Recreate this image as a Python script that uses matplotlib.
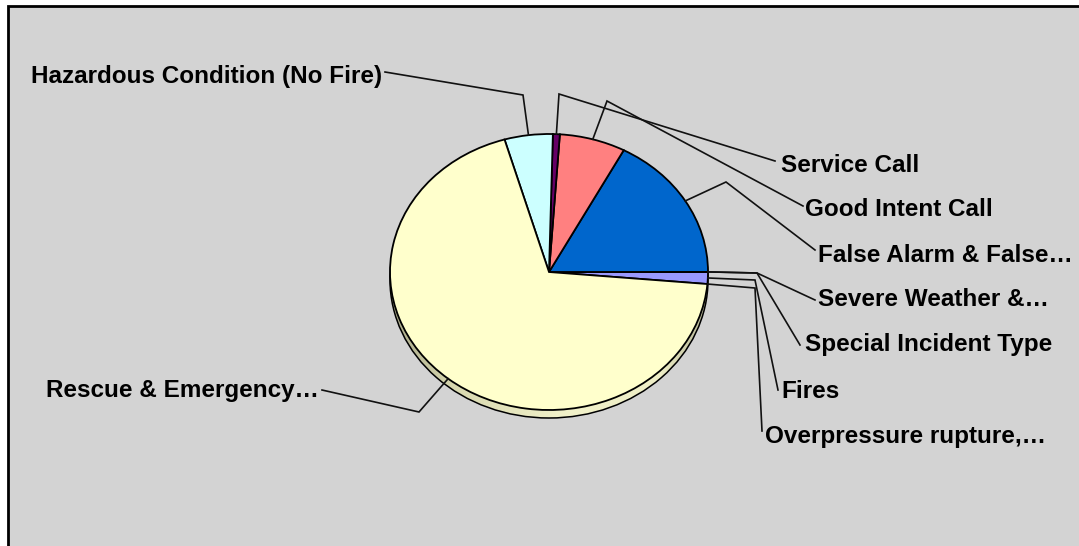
import numpy as np
import matplotlib
matplotlib.use('Agg')
import matplotlib.pyplot as plt
from matplotlib.colors import LinearSegmentedColormap
from matplotlib.patches import Ellipse, Rectangle

# slice order runs counter-clockwise, starting just below 3 o'clock
labels = ['Overpressure rupture,…', 'Fires', 'Severe Weather &…', 'Special Incident Type',
          'False Alarm & False…', 'Good Intent Call', 'Service Call',
          'Hazardous Condition (No Fire)', 'Rescue & Emergency…']
percent = [0.0, 1.4, 0.0, 0.0, 17.2, 6.7, 0.7, 4.9, 69.1]
colors = ['#000000', '#9999ff', '#000000', '#000000', '#0066cc', '#ff8080', '#660066', '#ccffff', '#ffffcc']

W, H = 1079, 546
CX, CY, RX, RY = 549, 272, 159, 138
DEPTH = 8

plt.rcParams['font.family'] = ['Liberation Sans', 'DejaVu Sans']

fig = plt.figure(figsize=(W / 100, H / 100), dpi=100, facecolor='white')
ax = fig.add_axes([0, 0, 1, 1])


def to_data(x, y):
    # reference pixels -> pie units
    return (x - CX) / RX, (CY - y) / RY


wedges, _ = ax.pie(percent, colors=colors, startangle=-5, counterclock=True, normalize=True,
                   wedgeprops=dict(edgecolor='black', linewidth=1.3, zorder=5))
ax.set_aspect('auto')

# panel and frame
x0, y0 = to_data(8, 6)
x1, y1 = to_data(W + 5, H + 5)
ax.add_patch(Rectangle((x0, y1), x1 - x0, y0 - y1, facecolor='#d3d3d3', edgecolor='black',
                       linewidth=2, zorder=0))

# side of the "3d" pie
side = Ellipse((0, -DEPTH / RY), 2, 2, facecolor='none', edgecolor='black', linewidth=1.1, zorder=3)
ax.add_patch(side)
shade = LinearSegmentedColormap.from_list('side', [(0, '#a8a888'), (0.2, '#d8d8b0'), (0.55, '#f2f2ca'),
                                                   (0.85, '#eeeec6'), (1, '#b4b494')])
im = ax.imshow(np.linspace(0, 1, 256).reshape(1, -1), cmap=shade, aspect='auto',
               extent=(-1, 1, -1.1, 0), zorder=2)
im.set_clip_path(side)
ax.set_xlim(to_data(0, 0)[0], to_data(W, 0)[0])
ax.set_ylim(to_data(0, H)[1], to_data(0, 0)[1])

# leader lines: slice edge -> elbow -> label
elbows = [(755, 288), (755, 280), (757, 273), (757, 273), (726, 182), (607, 101), (559, 94), (523, 95), (419, 412)]
ends = [(762, 431), (778, 390), (815, 300), (800, 345), (815, 250), (803, 206), (775, 161), (385, 72), (322, 390)]
text_pos = [(765, 436), (781, 391), (818, 300), (805, 345), (818, 255), (805, 210), (781, 165), (31, 76), (46, 390)]

for wedge, elbow, end, pos, label in zip(wedges, elbows, ends, text_pos, labels):
    mid = np.deg2rad((wedge.theta1 + wedge.theta2) / 2)
    ex, ey = to_data(*elbow)
    fx, fy = to_data(*end)
    ax.plot([np.cos(mid), ex, fx], [np.sin(mid), ey, fy], color='#111111', linewidth=1.2, zorder=6,
            solid_joinstyle='miter')
    tx, ty = to_data(*pos)
    ax.text(tx, ty, label, fontsize=17.5, fontweight='bold', color='black', ha='left', va='center', zorder=7)

fig.savefig('out.png', dpi=100, facecolor='white')
